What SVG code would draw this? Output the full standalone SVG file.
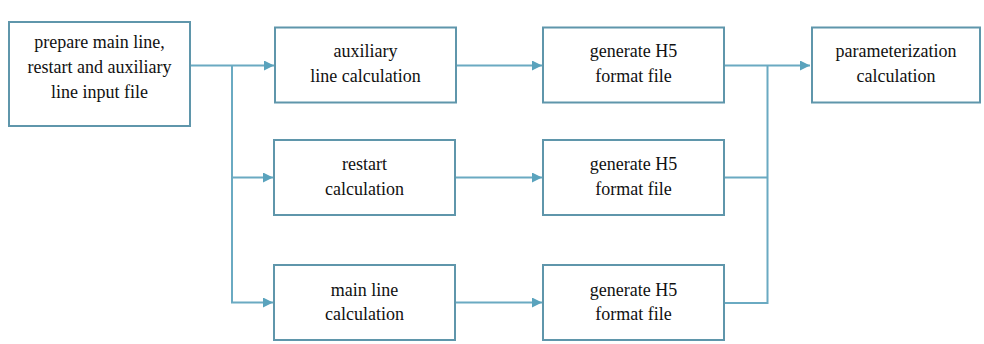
<svg xmlns="http://www.w3.org/2000/svg" width="984" height="344" viewBox="0 0 984 344">
<defs>
<style>
.box{fill:#ffffff;stroke:#5f96ab;stroke-width:2}
.ln{fill:none;stroke:#6aaac2;stroke-width:2}
.t{font-family:'Liberation Serif','Times New Roman','DejaVu Serif',serif;font-size:18px;fill:#111;text-anchor:middle}
</style>
<marker id="ah" viewBox="0 0 10 10" refX="10" refY="5" markerWidth="10" markerHeight="10" markerUnits="userSpaceOnUse" orient="auto">
<path d="M0,0 L10,5 L0,10 Z" fill="#5aa3bd"/>
</marker>
</defs>
<rect width="984" height="344" fill="#ffffff"/>
<g id="connectors">
<path class="ln" d="M190,65.5 H274" marker-end="url(#ah)"/>
<path class="ln" d="M232,65.5 V302.5 H273" marker-end="url(#ah)"/>
<path class="ln" d="M232,177.5 H273" marker-end="url(#ah)"/>
<path class="ln" d="M456,65.5 H542" marker-end="url(#ah)"/>
<path class="ln" d="M455,177.5 H542" marker-end="url(#ah)"/>
<path class="ln" d="M455,302.5 H542" marker-end="url(#ah)"/>
<path class="ln" d="M724,65.5 H810" marker-end="url(#ah)"/>
<path class="ln" d="M723,177.5 H767.5 M723,303 H767.5 V65.5"/>
</g>
<g id="input">
<rect class="box" x="9" y="22" width="181" height="104"/>
<text class="t" x="99.5" y="48">prepare main line,</text>
<text class="t" x="99.5" y="73">restart and auxiliary</text>
<text class="t" x="99.5" y="98">line input file</text>
</g>
<g id="aux">
<rect class="box" x="275" y="27.5" width="181" height="75"/>
<text class="t" x="365.5" y="57">auxiliary</text>
<text class="t" x="365.5" y="82">line calculation</text>
</g>
<g id="restart">
<rect class="box" x="274" y="140" width="181" height="75"/>
<text class="t" x="364.5" y="170">restart</text>
<text class="t" x="364.5" y="195">calculation</text>
</g>
<g id="main">
<rect class="box" x="274" y="265" width="181" height="75"/>
<text class="t" x="364.5" y="296">main line</text>
<text class="t" x="364.5" y="320">calculation</text>
</g>
<g id="h5a">
<rect class="box" x="543" y="27.5" width="181" height="75"/>
<text class="t" x="633.5" y="57">generate H5</text>
<text class="t" x="633.5" y="82">format file</text>
</g>
<g id="h5b">
<rect class="box" x="543" y="140" width="181" height="75"/>
<text class="t" x="633.5" y="170">generate H5</text>
<text class="t" x="633.5" y="195">format file</text>
</g>
<g id="h5c">
<rect class="box" x="543" y="265" width="181" height="75"/>
<text class="t" x="633.5" y="296">generate H5</text>
<text class="t" x="633.5" y="320">format file</text>
</g>
<g id="param">
<rect class="box" x="812" y="27.5" width="168" height="75"/>
<text class="t" x="896" y="57">parameterization</text>
<text class="t" x="896" y="82">calculation</text>
</g>
</svg>
